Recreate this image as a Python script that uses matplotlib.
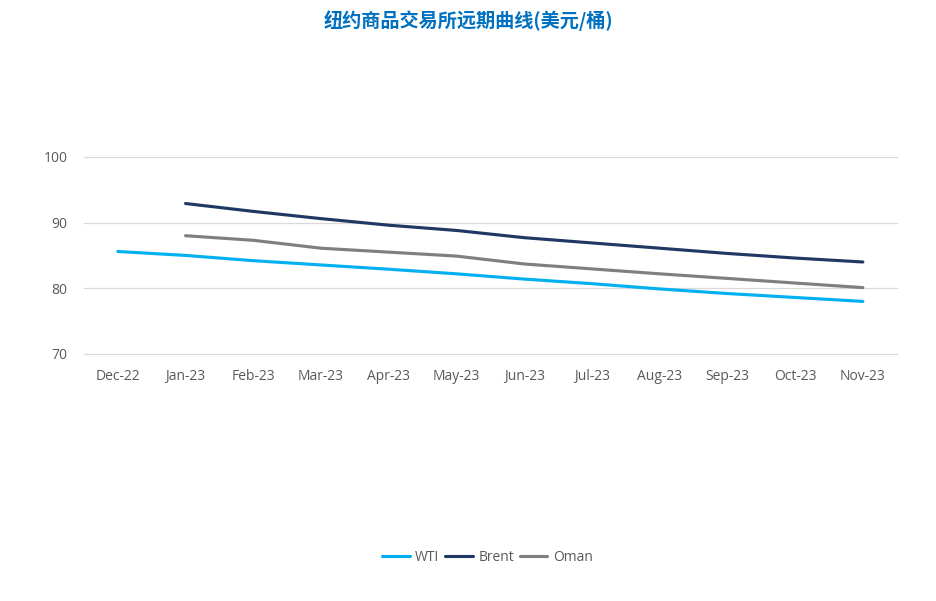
import matplotlib.pyplot as plt

plt.rcParams['font.family'] = ['Open Sans', 'DejaVu Sans']

months = ["Dec-22", "Jan-23", "Feb-23", "Mar-23", "Apr-23", "May-23",
          "Jun-23", "Jul-23", "Aug-23", "Sep-23", "Oct-23", "Nov-23"]
wti = [85.6, 85.0, 84.2, 83.55, 82.9, 82.2, 81.4, 80.7, 79.9, 79.2, 78.6, 78.0]
brent = [None, 92.9, 91.7, 90.6, 89.6, 88.8, 87.7, 86.9, 86.1, 85.3, 84.6, 84.0]
oman = [None, 88.0, 87.3, 86.1, 85.5, 84.9, 83.7, 82.95, 82.2, 81.5, 80.8, 80.1]
yticks = [70, 80, 90, 100]

fig = plt.figure(figsize=(9.37, 6.01), dpi=100)
ax = fig.add_axes([0.0896, 0.411, 0.8674, 0.328])

x = list(range(len(months)))
def pts(vals):
    xs = [i for i, v in zip(x, vals) if v is not None]
    ys = [v for v in vals if v is not None]
    return xs, ys

ax.plot(*pts(wti), color="#00B0F0", lw=2.25, label="WTI", solid_capstyle="round")
ax.plot(*pts(brent), color="#203864", lw=2.25, label="Brent", solid_capstyle="round")
ax.plot(*pts(oman), color="#7F7F7F", lw=2.25, label="Oman", solid_capstyle="round")

ax.set_xlim(-0.5, len(months) - 0.5)
ax.set_ylim(70, 100)
ax.set_yticks(yticks)
ax.set_xticks(x)
ax.set_xticklabels(months)
ax.grid(axis="y", color="#D9D9D9", lw=0.9)
for g in ax.get_ygridlines():
    g.set_clip_on(False)
ax.set_axisbelow(True)
for s in ax.spines.values():
    s.set_visible(False)
ax.tick_params(length=0, labelsize=10, labelcolor="#595959", pad=11)
ax.tick_params(axis="y", pad=12)

fig.text(0.5, 0.965, "纽约商品交易所远期曲线(美元/桶)", ha="center", va="center",
         fontsize=13.8, fontweight="bold", color="#0070C0",
         family=["Noto Sans CJK SC", "DejaVu Sans"])

fig.legend(loc="center", bbox_to_anchor=(0.52, 0.073), ncol=3, frameon=False,
           fontsize=10, handlelength=2.0, handletextpad=0.4, columnspacing=0.4,
           labelcolor="#595959")

fig.savefig("out.png", dpi=100)
